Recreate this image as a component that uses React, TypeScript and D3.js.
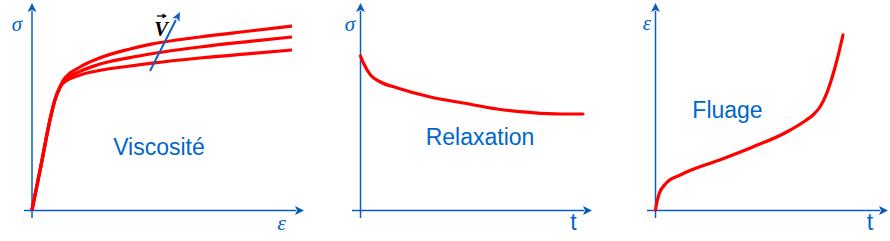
import React from "react";
import * as d3 from "d3";

// ---- Data (arbitrary units) ----
// Panel 1: stress-strain curves at three strain rates (strain, stress)
const viscLow: [number, number][] = [
  [0, 0], [0.35, 22.5], [0.69, 45], [0.88, 55], [1.08, 61.3], [1.19, 63.3],
  [1.85, 67.5], [2.5, 69.5], [3.77, 72], [4.54, 73.3], [6.46, 76], [8.38, 78.2], [10, 80],
];
const viscMid: [number, number][] = [
  [0, 0], [0.35, 22.5], [0.69, 45], [0.88, 55], [1.08, 61.5], [1.19, 64],
  [1.85, 69.3], [2.5, 72.5], [3.77, 76.2], [4.54, 78], [6.46, 81.5], [8.38, 84.3], [10, 86.5],
];
const viscHigh: [number, number][] = [
  [0, 0], [0.35, 22.5], [0.69, 45], [0.88, 55], [1.08, 61.7], [1.19, 64.6],
  [1.85, 71.5], [2.5, 75.5], [3.77, 80.5], [4.54, 82.8], [6.46, 86.5], [8.38, 89.5], [10, 92],
];
// Panel 2: relaxation (time, stress)
const relaxation: [number, number][] = [
  [0, 77], [0.13, 73.5], [0.45, 67.5], [0.9, 64], [1.66, 61], [3.14, 56.5],
  [4.62, 53.5], [6.14, 50.5], [7.62, 48.8], [8.97, 48], [10, 48],
];
// Panel 3: creep (time, strain)
const creep: [number, number][] = [
  [0, 0], [0.1, 5], [0.21, 8.5], [0.48, 12.5], [0.75, 15], [1.28, 17.3],
  [1.66, 19], [3.42, 25], [5.19, 31.5], [7.0, 39], [7.97, 44.5], [8.4, 47.5],
  [8.77, 51.5], [9.14, 58.5], [9.41, 66], [9.68, 75], [10, 87.5],
];
// Strain-rate arrow (strain, stress)
const rateArrow: [number, number][] = [[4.54, 69.5], [5.69, 99]];

const panelTitles = ["Viscosité", "Relaxation", "Fluage"];
const yLabels = ["σ", "σ", "ε"];
const xLabels = ["ε", "t", "t"];

const AXIS = "#0a5cc0";
const TEXT = "#0066cc";
const RED = "#ff0000";

type Panel = {
  x0: number; x1: number; y0: number; y1: number;
  axLeft: number; axRight: number; axTop: number; axBottom: number;
};

const panels: Panel[] = [
  { x0: 32, x1: 292, y0: 210, y1: 10, axLeft: 24, axRight: 304, axTop: 3, axBottom: 218 },
  { x0: 360.5, x1: 583, y0: 210, y1: 10, axLeft: 352, axRight: 592, axTop: 3, axBottom: 218 },
  { x0: 655.5, x1: 843, y0: 210, y1: 10, axLeft: 647, axRight: 888, axTop: 3, axBottom: 218 },
];

function Axes({ p }: { p: Panel }) {
  const ay = p.y0 + 0.5;
  const ax = p.x0;
  const head = 9;
  const hw = 4.5;
  return (
    <g>
      <line x1={ax} y1={p.axBottom} x2={ax} y2={p.axTop + head - 1} stroke={AXIS} strokeWidth={1.5} />
      <path
        d={`M${ax},${p.axTop} L${ax + hw},${p.axTop + head} L${ax},${p.axTop + head - 2} L${ax - hw},${p.axTop + head} Z`}
        fill={AXIS}
      />
      <line x1={p.axLeft} y1={ay} x2={p.axRight - head + 1} y2={ay} stroke={AXIS} strokeWidth={1.5} />
      <path
        d={`M${p.axRight},${ay} L${p.axRight - head},${ay - hw} L${p.axRight - head + 2},${ay} L${p.axRight - head},${ay + hw} Z`}
        fill={AXIS}
      />
    </g>
  );
}

export default function App() {
  const scales = panels.map((p) => ({
    x: d3.scaleLinear().domain([0, 10]).range([p.x0, p.x1]),
    y: d3.scaleLinear().domain([0, 100]).range([p.y0, p.y1]),
  }));
  const lineFor = (i: number) =>
    d3
      .line<[number, number]>()
      .x((d) => scales[i].x(d[0]))
      .y((d) => scales[i].y(d[1]))
      .curve(d3.curveMonotoneX);

  const s0 = scales[0];
  const ra0x = s0.x(rateArrow[0][0]);
  const ra0y = s0.y(rateArrow[0][1]);
  const ra1x = s0.x(rateArrow[1][0]);
  const ra1y = s0.y(rateArrow[1][1]);
  const ang = Math.atan2(ra1y - ra0y, ra1x - ra0x);
  const hl = 9, hwid = 4;
  const bx = ra1x - hl * Math.cos(ang);
  const by = ra1y - hl * Math.sin(ang);
  const px = -Math.sin(ang), py = Math.cos(ang);

  const titlePos = [
    { x: 159, y: 155 },
    { x: 480, y: 145 },
    { x: 727.5, y: 118 },
  ];
  const yLabPos = [
    { x: 17, y: 31 },
    { x: 350, y: 31 },
    { x: 647, y: 30 },
  ];
  const xLabPos = [
    { x: 281.5, y: 230, serif: true },
    { x: 573.5, y: 230, serif: false },
    { x: 870, y: 230, serif: false },
  ];

  return (
    <svg
      width={890}
      height={241}
      style={{ position: "absolute", left: 0, top: 0, background: "#fff" }}
    >
      <rect width={890} height={241} fill="#fff" />
      {panels.map((p, i) => (
        <Axes key={i} p={p} />
      ))}

      {/* Panel 1 curves */}
      {[viscLow, viscMid, viscHigh].map((d, k) => (
        <path key={k} d={lineFor(0)(d) || ""} fill="none" stroke={RED} strokeWidth={3.2} strokeLinejoin="round" />
      ))}
      {/* Panel 2 */}
      <path d={lineFor(1)(relaxation) || ""} fill="none" stroke={RED} strokeWidth={3.2} strokeLinecap="round" />
      {/* Panel 3 */}
      <path d={lineFor(2)(creep) || ""} fill="none" stroke={RED} strokeWidth={3.2} strokeLinecap="round" />

      {/* strain-rate arrow */}
      <line x1={ra0x} y1={ra0y} x2={bx} y2={by} stroke="#1060c0" strokeWidth={2} />
      <path
        d={`M${ra1x},${ra1y} L${bx + hwid * px},${by + hwid * py} L${bx + 2 * Math.cos(ang)},${by + 2 * Math.sin(ang)} L${bx - hwid * px},${by - hwid * py} Z`}
        fill="#1060c0"
      />
      {/* V vector label */}
      <text x={161} y={35.5} textAnchor="middle" fontFamily="'Liberation Serif', 'DejaVu Serif', serif" fontStyle="italic" fontWeight="bold" fontSize={20.5} fill="#000">
        V
      </text>
      <line x1={157} y1={16} x2={164} y2={16} stroke="#000" strokeWidth={1.3} />
      <path d="M167,16 L162.5,13.5 L162.5,18.5 Z" fill="#000" />

      {panelTitles.map((t, i) => (
        <text key={t} x={titlePos[i].x} y={titlePos[i].y} textAnchor="middle" fontFamily="'Liberation Sans', Arial, sans-serif" fontSize={23} fill={TEXT}>
          {t}
        </text>
      ))}
      {yLabels.map((t, i) => (
        <text key={i} x={yLabPos[i].x} y={yLabPos[i].y} textAnchor="middle" fontFamily="'Liberation Serif', 'DejaVu Serif', serif" fontStyle="italic" fontSize={21} fill={TEXT}>
          {t}
        </text>
      ))}
      {xLabels.map((t, i) => (
        <text
          key={i}
          x={xLabPos[i].x}
          y={xLabPos[i].y}
          textAnchor="middle"
          fontFamily={xLabPos[i].serif ? "'Liberation Serif', 'DejaVu Serif', serif" : "'Liberation Sans', Arial, sans-serif"}
          fontStyle={xLabPos[i].serif ? "italic" : "normal"}
          fontSize={xLabPos[i].serif ? 22 : 23}
          fill={TEXT}
        >
          {t}
        </text>
      ))}
    </svg>
  );
}
